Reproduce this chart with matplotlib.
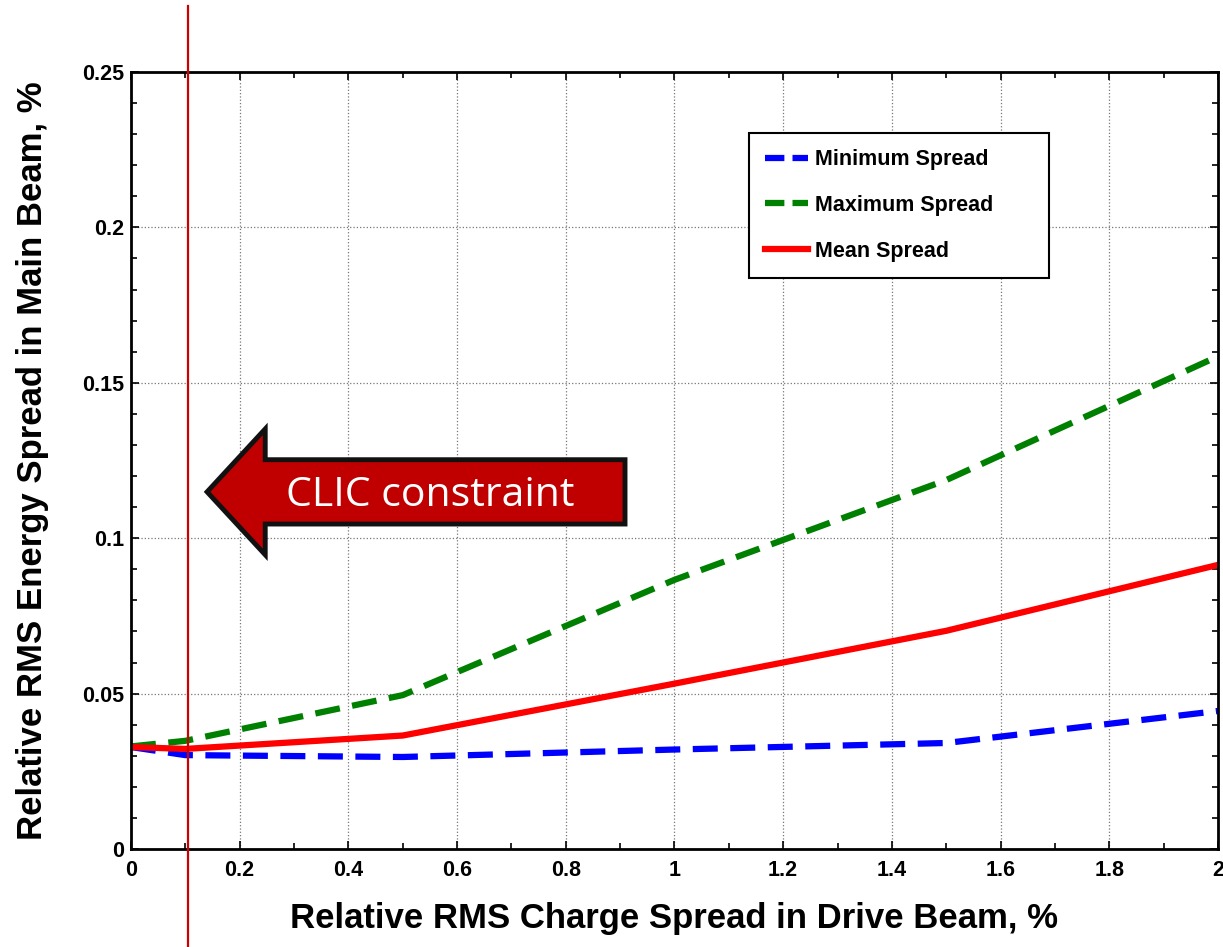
import matplotlib.pyplot as plt
import numpy as np
from matplotlib.lines import Line2D
from matplotlib.patches import FancyArrow
from matplotlib.ticker import MultipleLocator

plt.rcParams['font.family'] = ['Liberation Sans', 'DejaVu Sans']

# Data
charge_spread = [0, 0.1, 0.5, 1.0, 1.5, 2.0]
min_spread = [0.0328, 0.0302, 0.0296, 0.0320, 0.0341, 0.0444]
max_spread = [0.0330, 0.0348, 0.0495, 0.0866, 0.1187, 0.1585]
mean_spread = [0.0328, 0.0322, 0.0365, 0.0532, 0.0702, 0.0914]
labels = ['Minimum Spread', 'Maximum Spread', 'Mean Spread']
colors = ['#0000FF', '#008000', '#FF0000']
clic_line_x = 0.105  # hand-drawn marker sits just right of 0.1

fig = plt.figure(figsize=(12.23, 9.47), dpi=100)
ax = fig.add_axes([0.1071, 0.1035, 0.8888, 0.8205])

dash = (4, 2)
ax.plot(charge_spread, min_spread, color=colors[0], lw=4.5, ls=(0, dash))
ax.plot(charge_spread, max_spread, color=colors[1], lw=4.5, ls=(0, dash))
ax.plot(charge_spread, mean_spread, color=colors[2], lw=4.5)

# vertical constraint line runs over the whole figure height
ax.axvline(clic_line_x, ymin=-0.13, ymax=1.085, color='#CC0000', lw=1.6, clip_on=False, zorder=5)

# arrow annotation
arrow = FancyArrow(0.909, 0.1149, -0.769, 0, width=0.0207, head_width=0.0405,
                   head_length=0.107, length_includes_head=True,
                   facecolor='#C00000', edgecolor='#111111', lw=3.5, joinstyle='miter', zorder=6)
ax.add_patch(arrow)
ax.text(0.55, 0.1137, 'CLIC constraint', color='white', fontsize=29.5,
        family=['Open Sans', 'DejaVu Sans'], ha='center', va='center', zorder=7)

ax.set_xlim(0, 2)
ax.set_ylim(0, 0.25)
ax.xaxis.set_minor_locator(MultipleLocator(0.1))
ax.yaxis.set_minor_locator(MultipleLocator(0.01))
ax.set_xticks(np.arange(0, 2.01, 0.2))
ax.set_xticklabels(['0', '0.2', '0.4', '0.6', '0.8', '1', '1.2', '1.4', '1.6', '1.8', '2'])
ax.set_yticks(np.arange(0, 0.251, 0.05))
ax.set_yticklabels(['0', '0.05', '0.1', '0.15', '0.2', '0.25'])
ax.tick_params(which='both', direction='in', top=True, right=True, labelsize=15.5, width=1.2)
ax.tick_params(which='major', length=6)
ax.tick_params(which='minor', length=4)
ax.tick_params(axis='x', pad=8)
ax.tick_params(axis='y', pad=5)
for lbl in ax.get_xticklabels() + ax.get_yticklabels():
    lbl.set_fontweight('bold')
ax.grid(True, which='major', color='#777777', ls=':', lw=0.9)
for sp in ax.spines.values():
    sp.set_linewidth(2)

ax.set_xlabel('Relative RMS Charge Spread in Drive Beam, %', fontsize=25, fontweight='bold', labelpad=15)
ax.set_ylabel('Relative RMS Energy Spread in Main Beam, %', fontsize=25, fontweight='bold', labelpad=24)

# legend handles use a shorter dash so two dashes fit like the reference
handles = [Line2D([], [], color=colors[0], lw=4.5, ls=(0, (3.1, 1.3))),
           Line2D([], [], color=colors[1], lw=4.5, ls=(0, (3.1, 1.3))),
           Line2D([], [], color=colors[2], lw=4.5)]
leg = ax.legend(handles, labels, loc='upper left', mode='expand',
                bbox_to_anchor=(0.5685, 0.7375, 0.276, 0.184), borderaxespad=0,
                prop={'weight': 'bold', 'size': 15.5}, fancybox=False, framealpha=1,
                edgecolor='black', handlelength=2.0, handletextpad=0.3,
                labelspacing=1.15, borderpad=0.75)
leg.get_frame().set_linewidth(1.5)

fig.savefig('out.png', dpi=100)
